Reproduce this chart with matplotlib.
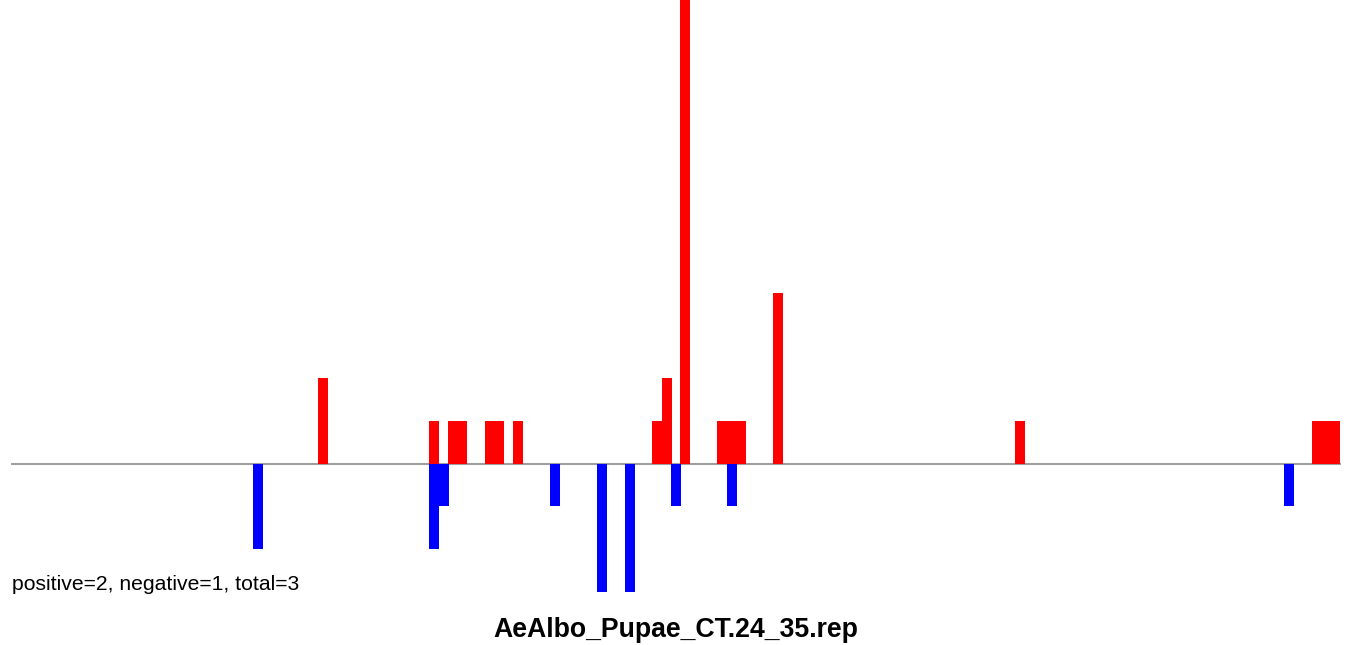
"""
plot.py -- positive / negative hit track for AeAlbo_Pupae_CT.24_35.rep
"""
import matplotlib
matplotlib.use("Agg")
import matplotlib.pyplot as plt

plt.rcParams["font.family"] = ["Liberation Sans", "DejaVu Sans"]

# ---------------------------------------------------------------------------
# data (left edge of each bin along the track, signed count)
# ---------------------------------------------------------------------------
pos_x = [307, 418, 437, 446.5, 474, 483.5, 502, 641, 651, 669,
         706, 715.7, 725.3, 762, 1004, 1301, 1310.3, 1319.7]
pos_h = [2, 1, 1, 1, 1, 1, 1, 1, 2, 12,
         1, 1, 1, 4, 1, 1, 1, 1]
neg_x = [242, 418, 428, 539, 586, 614, 660, 716, 1273]
neg_h = [-2, -2, -1, -1, -3, -3, -1, -1, -1]

TRACK_LEN = 1330
BIN_W = 9.6
title = "AeAlbo_Pupae_CT.24_35.rep"
summary = "positive=2, negative=1, total=3"

# ---------------------------------------------------------------------------
# plot
# ---------------------------------------------------------------------------
W, H = 1352, 645
fig = plt.figure(figsize=(W / 100, H / 100), dpi=100)
ax = fig.add_axes([11 / W, 1 - 600 / H, TRACK_LEN / W, 600 / H])

unit = 42.7                                   # px per count
ax.axhline(0, color="#a0a0a0", lw=1.5, zorder=1)
ax.bar(pos_x, pos_h, width=BIN_W, align="edge", color="#ff0000", lw=0, zorder=2)
ax.bar(neg_x, neg_h, width=BIN_W, align="edge", color="#0000ff", lw=0, zorder=2)

ax.set_xlim(0, TRACK_LEN)
ax.set_ylim(-(600 - 463.5) / unit, 463.5 / unit)
ax.axis("off")

fig.text(12 / W, 1 - 584 / H, summary, fontsize=15.2, ha="left", va="center")
fig.text(0.5 * (494 + 858) / W, 1 - 630 / H, title, fontsize=19.2,
         fontweight="bold", ha="center", va="center")

fig.savefig("out.png", dpi=100, facecolor="white")
plt.close(fig)
